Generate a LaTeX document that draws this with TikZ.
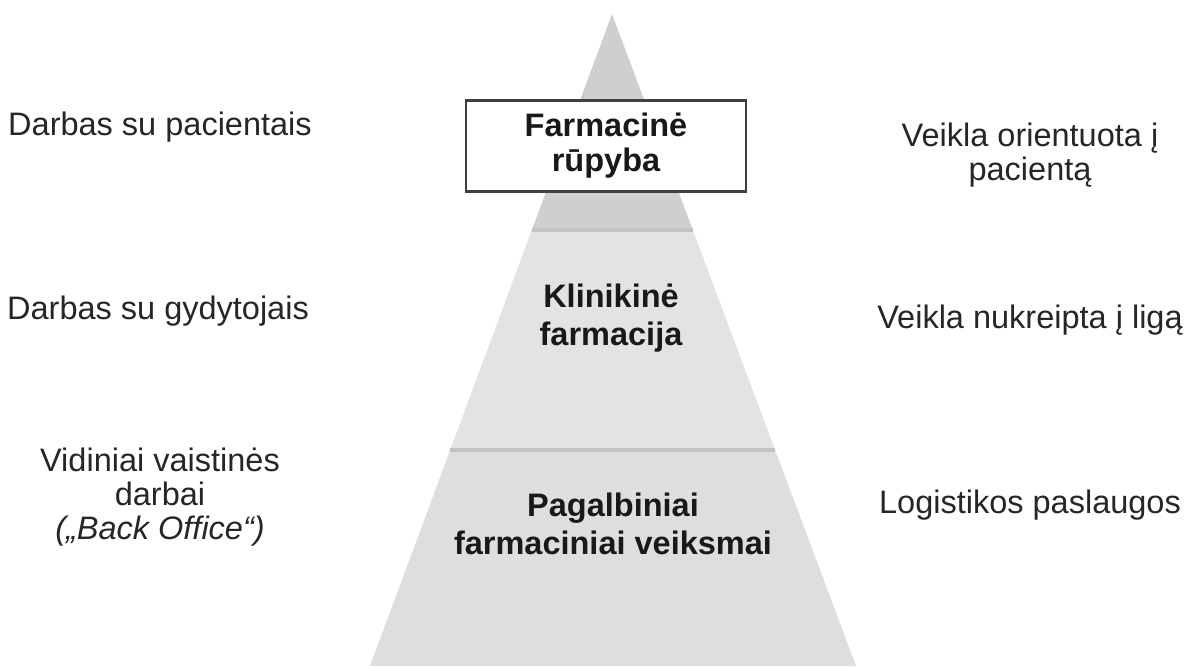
\documentclass[tikz,border=0pt]{standalone}
\usepackage{fontspec}
\setmainfont{Liberation Sans}
\usetikzlibrary{positioning,calc}

\tikzset{
  sidetext/.style={align=center,text=black!85,font=\fontsize{18.5}{19.5}\selectfont},
  leveltext/.style={align=center,text=black!90,font=\fontsize{18.5}{21.5}\selectfont\bfseries},
}

\begin{document}
\begin{tikzpicture}[x=0.02cm,y=-0.02cm]
  \useasboundingbox (0,0) rectangle (1186,668);

  % Pyramid corners
  \coordinate (T) at (612,14);
  \coordinate (BL) at (370,666);
  \coordinate (BR) at (856,666);
  % Band borders
  \coordinate (L1) at ($(T)!0.3313!(BL)$);
  \coordinate (R1) at ($(T)!0.3313!(BR)$);
  \coordinate (L2) at ($(T)!0.6687!(BL)$);
  \coordinate (R2) at ($(T)!0.6687!(BR)$);

  % Bands
  \fill[black!19] (T) -- (L1) -- (R1) -- cycle;
  \fill[black!11] (L1) -- (R1) -- (R2) -- (L2) -- cycle;
  \fill[black!13] (L2) -- (R2) -- (BR) -- (BL) -- cycle;
  \draw[black!24,line width=1.8pt] (L1) -- (R1);
  \draw[black!24,line width=1.8pt] (L2) -- (R2);

  % Top box
  \node[draw=black!75,line width=1.2pt,fill=white,minimum width=5.6cm,minimum height=1.82cm,
        leveltext,font=\fontsize{18.5}{20}\selectfont\bfseries] (care) at (606,146) {Farmacinė\\rūpyba};

  % Level labels
  \node[leveltext] (clinic) at (611,318) {Klinikinė\\farmacija};
  \node[leveltext] (support) at (613,524) {Pagalbiniai\\farmaciniai veiksmai};

  % Left side
  \node[sidetext] (patients) at (160,127) {Darbas su pacientais};
  \node[sidetext] (doctors) at (158,311) {Darbas su gydytojais};
  \node[sidetext] (office) at (160,497) {Vidiniai vaistinės\\darbai\\{\itshape („Back Office“)}};

  % Right side
  \node[sidetext] (focus) at (1030,155) {Veikla orientuota į\\pacientą};
  \node[sidetext] (disease) at (1030,320) {Veikla nukreipta į ligą};
  \node[sidetext] (logistics) at (1030,505) {Logistikos paslaugos};
\end{tikzpicture}
\end{document}
